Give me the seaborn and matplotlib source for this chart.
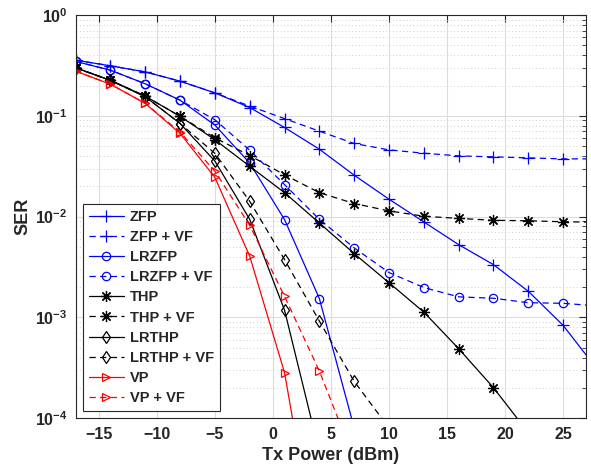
import numpy as np
import pandas as pd
import matplotlib
matplotlib.use("Agg")
import matplotlib.pyplot as plt
import seaborn as sns
from matplotlib.ticker import LogLocator, FixedLocator

# ---------------- data ----------------
x_full = [-17, -14, -11, -8, -5, -2, 1, 4, 7, 10, 13, 16, 19, 22, 25, 28]

zfp = [0.357, 0.314, 0.273, 0.221, 0.169, 0.121, 0.0767, 0.0467, 0.0258, 0.0149,
       0.00887, 0.00528, 0.00334, 0.00182, 0.000835, 0.00030]
zfp_vf = [0.357, 0.314, 0.273, 0.221, 0.169, 0.125, 0.094, 0.0705, 0.0532, 0.046,
          0.0426, 0.0401, 0.0392, 0.0383, 0.0374, 0.0375]
lrzfp = [0.347, 0.284, 0.208, 0.143, 0.081, 0.034, 0.00935, 0.00154, 0.00008]
lrzfp_vf = [0.347, 0.284, 0.208, 0.143, 0.0915, 0.0456, 0.0208, 0.0094, 0.0049, 0.00279,
            0.00198, 0.0016, 0.00155, 0.0014, 0.00138, 0.0013]
thp = [0.30, 0.225, 0.157, 0.099, 0.058, 0.0316, 0.0173, 0.00865, 0.0043, 0.00221,
       0.00113, 0.00049, 0.000201, 0.000072]
thp_vf = [0.30, 0.225, 0.157, 0.099, 0.0605, 0.0404, 0.026, 0.0173, 0.0135, 0.0114,
          0.0101, 0.0096, 0.0092, 0.0091, 0.0089, 0.0088]
lrthp = [0.30, 0.225, 0.155, 0.084, 0.0356, 0.0094, 0.00118, 0.000046]
lrthp_vf = [0.30, 0.225, 0.155, 0.084, 0.0424, 0.0142, 0.00375, 0.00092, 0.000232, 0.00008]
vp = [0.278, 0.206, 0.133, 0.067, 0.0245, 0.00405, 0.000283, 0.000003]
vp_vf = [0.278, 0.206, 0.133, 0.069, 0.0282, 0.0082, 0.00162, 0.000294, 0.000039]

labels = ["ZFP", "ZFP + VF", "LRZFP", "LRZFP + VF", "THP", "THP + VF",
          "LRTHP", "LRTHP + VF", "VP", "VP + VF"]
series = [zfp, zfp_vf, lrzfp, lrzfp_vf, thp, thp_vf, lrthp, lrthp_vf, vp, vp_vf]
colors = ["#0000ff", "#0000ff", "#0000ff", "#0000ff", "black", "black",
          "black", "black", "#ff0000", "#ff0000"]
markers = ["+", "+", "o", "o", (8, 2, 0), (8, 2, 0), "d", "d", ">", ">"]
msizes = [9, 9, 6, 6, 8, 8, 6, 6, 6, 6]
dashed = [False, True] * 5

x_ticks = [-15, -10, -5, 0, 5, 10, 15, 20, 25]

# ---------------- style ----------------
sns.set_style("white")
plt.rcParams['font.family'] = ['Liberation Sans', 'DejaVu Sans']
plt.rcParams['font.weight'] = 'bold'
plt.rcParams['mathtext.fontset'] = 'custom'
plt.rcParams['mathtext.rm'] = 'Liberation Sans:bold'
plt.rcParams['mathtext.bf'] = 'Liberation Sans:bold'
plt.rcParams['mathtext.default'] = 'bf'

fig = plt.figure(figsize=(5.91, 4.72), dpi=100)
ax = fig.add_axes([0.128, 0.114, 0.864, 0.854])

for lab, ys, c, m, ms, d in zip(labels, series, colors, markers, msizes, dashed):
    df = pd.DataFrame({"x": x_full[:len(ys)], "y": ys})
    sns.lineplot(data=df, x="x", y="y", ax=ax, color=c, marker=m, markersize=ms,
                 markerfacecolor="none", markeredgecolor=c, markeredgewidth=0.9,
                 linewidth=0.9, linestyle=(0, (5, 3.5)) if d else "-", label=lab)

ax.set_yscale("log")
ax.set_xlim(-17, 27)
ax.set_ylim(1e-4, 1)
ax.xaxis.set_major_locator(FixedLocator(x_ticks))
ax.yaxis.set_major_locator(LogLocator(base=10, numticks=10))
ax.yaxis.set_minor_locator(LogLocator(base=10, subs=np.arange(2, 10), numticks=20))

ax.grid(True, which="major", color="#dcdcdc", linewidth=0.8, linestyle="-")
ax.grid(True, which="minor", axis="y", color="#cfcfcf", linewidth=0.7, linestyle=(0, (1, 2.5)))
ax.set_axisbelow(True)

ax.tick_params(which="both", direction="in", top=True, right=True, colors="#262626",
               labelcolor="#262626")
ax.tick_params(which="major", length=5, width=0.8, labelsize=11.5, pad=6)
ax.tick_params(which="minor", length=3, width=0.6)
for lab in ax.get_xticklabels() + ax.get_yticklabels():
    lab.set_fontweight("bold")
for s in ax.spines.values():
    s.set_color("#262626")
    s.set_linewidth(0.8)

ax.set_xlabel("Tx Power (dBm)", fontsize=13, fontweight="bold", color="#262626")
ax.set_ylabel("SER", fontsize=13, fontweight="bold", color="#262626", labelpad=2)

leg = ax.legend(loc="lower left", fontsize=10.5, handlelength=2.4, labelspacing=0.42,
                borderaxespad=0.5, frameon=True, fancybox=False, framealpha=1,
                edgecolor="#262626", borderpad=0.4, handletextpad=0.4)
leg.get_frame().set_linewidth(0.8)
for t in leg.get_texts():
    t.set_fontweight("bold")

fig.savefig("out.png", dpi=100)
